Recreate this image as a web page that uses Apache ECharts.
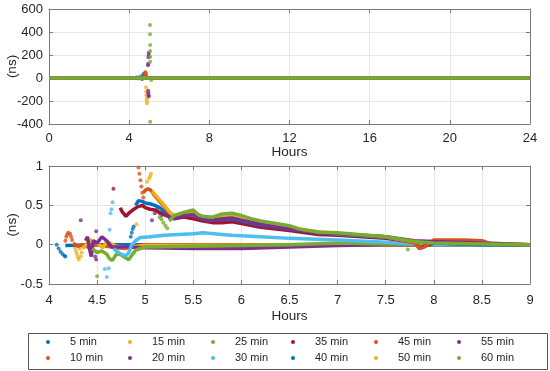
<!DOCTYPE html>
<html><head><meta charset="utf-8">
<script src="https://cdn.jsdelivr.net/npm/echarts@6/dist/echarts.min.js"></script>
<style>html,body{margin:0;padding:0;background:#fff}#c{width:550px;height:371px}</style>
</head><body><div id="c"></div>
<script>
// ---- Data (hours, ns) ----
const seriesNames = ['5 min','10 min','15 min','20 min','25 min','30 min','35 min','40 min','45 min','50 min','55 min','60 min'];
// legend columns (two entries each, top then bottom)
const legendColumns = [['5 min','10 min'],['15 min','20 min'],['25 min','30 min'],['35 min','40 min'],['45 min','50 min'],['55 min','60 min']];
const topXTicks = [0, 24, 4];      // min, max, step
const topYTicks = [-400, 600, 200];
const botXTicks = [4, 9, 0.5];
const botYTicks = [-0.5, 1, 0.5];
const dayFlat = [[0, 0], [24, 0]];

// initial (transient) points of each run
const pts_5  = [[4.08,0],[4.10,-0.05],[4.12,-0.09],[4.14,-0.12],[4.16,-0.14],[4.17,-0.15]];
const pts_10 = [[4.17,0.05],[4.18,0.10],[4.19,0.13],[4.20,0.15],[4.22,0.14],[4.23,0.10],[4.24,0.06]];
const pts_15 = [[4.27,-0.04],[4.28,-0.08],[4.29,-0.12],[4.30,-0.16],[4.31,-0.19],[4.32,-0.05],[4.33,-0.15],[4.34,-0.10],[4.30,-3]];
const pts_20 = [[4.33,0.31],[4.49,0.17],[4.48,-0.15],[4.49,-0.19],[4.36,4]];
const pts_25 = [[4.50,-0.40],[4.45,-5],[4.47,6]];
const pts_30 = [[4.58,-0.31],[4.60,-0.41],[4.62,-0.30],[4.63,0.19],[4.65,0.45],[4.64,0.40],[4.66,0.54],[4.55,8],[4.57,15],[4.60,10]];
const pts_35 = [[4.67,0.71],[4.62,5],[4.64,-8]];
const pts_40 = [[4.85,0.10],[4.86,0.15],[4.87,0.20],[4.88,0.23],[4.68,10],[4.70,25],[4.72,35],[4.74,20],[4.76,8]];
const pts_45 = [[4.93,0.98],[4.94,0.90],[4.95,0.82],[4.96,0.74],[4.97,0.66],[4.98,0.60],[4.76,20],[4.78,35],[4.80,50],[4.82,45],[4.84,30],[4.86,15],[4.88,5]];
const pts_50 = [[4.91,0.26],[5.02,0.80],[5.04,0.84],[5.05,0.87],[5.06,0.90],[4.84,-80],[4.85,-120],[4.86,-150],[4.87,-180],[4.88,-200],[4.89,-220]];
const pts_55 = [[5.07,0.31],[5.10,0.40],[5.12,0.44],[5.15,0.40],[5.17,0.37],[4.94,110],[4.95,125],[4.96,180],[4.97,200],[4.98,220],[4.95,-110],[4.96,-130],[4.97,-150],[4.98,-160]];
const pts_60 = [[5.15,0.35],[5.17,0.32],[5.19,0.28],[5.21,0.24],[5.23,0.21],[7.73,-0.06],[5.04,461],[5.04,380],[5.05,287],[5.05,235],[5.05,185],[5.05,142],[5.05,-380],[5.10,-17]];

// converged tracks of each run
const line_5  = [[4.17,-0.01],[4.5,0],[5,0],[6,0],[7,0],[8,0],[9,0]];
const line_10 = [[4.25,0.02],[4.3,-0.02],[4.35,0],[4.4,-0.03],[4.5,0],[4.6,-0.02],[4.7,-0.04],[4.8,-0.05],[4.85,-0.02],[5,0],[6,0],[7,0],[9,0]];
const line_15 = [[4.35,-0.05],[4.43,0.06],[4.5,0.02],[4.56,-0.04],[4.6,0.04],[4.7,-0.02],[4.8,-0.04],[5,-0.01],[9,0]];
const line_20 = [[4.38,0.05],[4.4,0.1],[4.42,-0.05],[4.44,-0.15],[4.46,0.05],[4.5,0.02],[4.55,0.1],[4.6,0.05],[4.65,-0.03],[4.8,-0.03],[5,-0.04],[5.5,-0.05],[6,-0.05],[6.5,-0.03],[7,-0.01],[7.5,0],[8,0],[9,0]];
const line_25 = [[4.45,-0.05],[4.5,-0.1],[4.55,-0.08],[4.6,-0.12],[4.63,-0.18],[4.66,-0.2],[4.7,-0.12],[4.75,-0.13],[4.8,-0.17],[4.83,-0.19],[4.87,-0.12],[4.9,-0.07],[5,-0.03],[5.5,-0.02],[6,-0.01],[6.5,0],[7,0.02],[7.5,0.01],[9,0]];
const line_30 = [[4.67,-0.05],[4.7,-0.08],[4.75,-0.12],[4.8,-0.14],[4.83,-0.1],[4.86,0],[4.9,0.05],[4.95,0.09],[5.05,0.1],[5.2,0.12],[5.5,0.14],[5.6,0.15],[5.8,0.13],[5.9,0.12],[6.2,0.1],[6.5,0.08],[7,0.06],[7.5,0.03],[7.6,0.02],[8,0],[9,0]];
const line_35 = [[4.74,0.47],[4.76,0.42],[4.8,0.36],[4.83,0.4],[4.87,0.44],[4.92,0.48],[4.97,0.5],[5.0,0.47],[5.05,0.45],[5.1,0.44],[5.2,0.38],[5.3,0.33],[5.4,0.35],[5.5,0.33],[5.6,0.3],[5.7,0.28],[5.8,0.28],[5.9,0.29],[6.0,0.27],[6.2,0.22],[6.5,0.18],[6.8,0.13],[7,0.12],[7.5,0.08],[7.8,0.03],[7.85,-0.04],[7.9,-0.02],[8,0.02],[8.5,0.01],[9,0]];
const line_40 = [[4.9,0.5],[4.93,0.56],[4.97,0.55],[5.0,0.53],[5.05,0.52],[5.1,0.5],[5.15,0.47],[5.2,0.42],[5.25,0.36],[5.3,0.34],[5.4,0.38],[5.5,0.38],[5.6,0.32],[5.7,0.31],[5.8,0.32],[5.9,0.33],[6,0.3],[6.2,0.25],[6.5,0.2],[6.8,0.15],[7,0.13],[7.5,0.09],[7.8,0.04],[8,0.02],[8.5,0],[9,0]];
const line_45 = [[4.98,0.66],[5.0,0.69],[5.03,0.71],[5.06,0.69],[5.1,0.62],[5.15,0.55],[5.2,0.48],[5.25,0.4],[5.3,0.36],[5.4,0.4],[5.5,0.41],[5.6,0.34],[5.7,0.32],[5.8,0.34],[5.9,0.35],[6,0.32],[6.2,0.27],[6.5,0.21],[6.8,0.15],[7,0.14],[7.5,0.1],[7.8,0.02],[7.85,-0.05],[7.9,-0.03],[8,0.06],[8.3,0.06],[8.5,0.05],[8.6,0.01],[9,0]];
const line_50 = [[5.07,0.68],[5.1,0.64],[5.15,0.57],[5.2,0.5],[5.25,0.42],[5.3,0.37],[5.4,0.4],[5.5,0.42],[5.6,0.35],[5.7,0.33],[5.8,0.35],[5.9,0.36],[6,0.33],[6.2,0.28],[6.5,0.22],[6.8,0.16],[7,0.14],[7.5,0.1],[7.8,0.04],[8,0.03],[8.5,0.02],[9,0]];
const line_55 = [[5.2,0.4],[5.25,0.35],[5.3,0.33],[5.4,0.37],[5.5,0.38],[5.6,0.32],[5.7,0.31],[5.8,0.33],[5.9,0.34],[6,0.31],[6.2,0.26],[6.5,0.2],[6.8,0.15],[7,0.14],[7.5,0.1],[7.8,0.05],[8,0.04],[8.5,0.02],[9,0]];
const line_60 = [[5.25,0.3],[5.3,0.37],[5.4,0.41],[5.5,0.44],[5.55,0.38],[5.6,0.36],[5.7,0.35],[5.8,0.39],[5.9,0.4],[6,0.37],[6.1,0.33],[6.2,0.3],[6.5,0.24],[6.6,0.2],[6.8,0.16],[7,0.15],[7.5,0.1],[7.8,0.04],[8,0.02],[8.5,0.01],[9,0]];

const ptsList  = [pts_5,pts_10,pts_15,pts_20,pts_25,pts_30,pts_35,pts_40,pts_45,pts_50,pts_55,pts_60];
const lineList = [line_5,line_10,line_15,line_20,line_25,line_30,line_35,line_40,line_45,line_50,line_55,line_60];

// ---- Styling ----
const palette = ['#0072BD','#D95319','#EDB120','#7E2F8E','#77AC30','#4DBEEE','#A2142F'];
const FONT = "'Liberation Sans', Arial, sans-serif";
const axisGray = '#7a7a7a';
const textCol = '#262626';
const gridCol = '#e6e6e6';

function xAx(grid, r, pos, showLabels, name, nameGap, margin) {
  return {
    type:'value', gridIndex:grid, min:r[0], max:r[1], interval:r[2], position:pos,
    axisLine:{show:true, onZero:false, lineStyle:{color:axisGray, width:1}},
    axisTick:{show:true, inside:true, length:4, lineStyle:{color:axisGray}},
    axisLabel:{show:showLabels, margin:margin, color:textCol, fontSize:13, fontFamily:FONT},
    splitLine:{show:showLabels, lineStyle:{color:gridCol}},
    name: name, nameLocation:'middle', nameGap:nameGap, nameMoveOverlap:false,
    nameTextStyle:{color:textCol, fontSize:13.5, fontFamily:FONT}
  };
}
function yAx(grid, r, pos, showLabels) {
  return {
    type:'value', gridIndex:grid, min:r[0], max:r[1], interval:r[2], position:pos,
    axisLine:{show:true, onZero:false, lineStyle:{color:axisGray, width:1}},
    axisTick:{show:true, inside:true, length:4, lineStyle:{color:axisGray}},
    axisLabel:{show:showLabels, margin:6, color:textCol, fontSize:13, fontFamily:FONT},
    splitLine:{show:showLabels, lineStyle:{color:gridCol}},
    name: showLabels ? '(ns)' : '', nameLocation:'middle', nameGap:30, nameMoveOverlap:false,
    nameTextStyle:{color:textCol, fontSize:13.5, fontFamily:FONT}
  };
}

const series = [];
seriesNames.forEach((nm, i) => {
  const col = palette[i % palette.length];
  const topLine = [dayFlat[0]].concat(lineList[i]).concat([dayFlat[1]]);
  series.push({type:'line', name:nm, xAxisIndex:0, yAxisIndex:0, data:topLine, showSymbol:false,
    color:col, lineStyle:{width:3.5, color:col}, silent:true});
  series.push({type:'scatter', name:nm, xAxisIndex:0, yAxisIndex:0, data:ptsList[i], symbolSize:4,
    color:col, itemStyle:{color:col}, silent:true});
  series.push({type:'line', name:nm, xAxisIndex:2, yAxisIndex:2, data:lineList[i], showSymbol:false,
    color:col, lineStyle:{width:3.5, color:col}, silent:true});
  series.push({type:'scatter', name:nm, xAxisIndex:2, yAxisIndex:2, data:ptsList[i], symbolSize:4,
    color:col, itemStyle:{color:col}, silent:true, clip:true});
});

const legendLefts = [46, 128, 211, 291, 374, 457];
const legends = legendColumns.map((col, k) => ({
  data: col, orient:'vertical', left: legendLefts[k], top: 334, padding:0,
  itemGap:0, itemWidth:34, itemHeight:4, icon:'circle', selectedMode:false,
  textStyle:{color:textCol, fontSize:11, fontFamily:FONT, lineHeight:16}
}));

const chart = echarts.init(document.getElementById('c'), null, {renderer:'canvas'});
chart.setOption({
  animation:false,
  backgroundColor:'#fff',
  grid:[
    {left:49, right:20, top:9, height:115, show:false, containLabel:false, outerBoundsMode:'none'},
    {left:49, right:20, top:166, height:118, show:false, containLabel:false, outerBoundsMode:'none'}
  ],
  xAxis:[
    xAx(0, topXTicks, 'bottom', true, 'Hours', 21, 7.5),
    xAx(0, topXTicks, 'top', false, '', 0, 8),
    xAx(1, botXTicks, 'bottom', true, 'Hours', 25, 9.5),
    xAx(1, botXTicks, 'top', false, '', 0, 8)
  ],
  yAxis:[
    yAx(0, topYTicks, 'left', true),
    yAx(0, topYTicks, 'right', false),
    yAx(1, botYTicks, 'left', true),
    yAx(1, botYTicks, 'right', false)
  ],
  legend: legends,
  graphic:[{type:'rect', left:26, top:331, shape:{width:519, height:36},
    style:{fill:'none', stroke:'#555', lineWidth:1}, silent:true, z:-1}],
  series: series
});
</script></body></html>
